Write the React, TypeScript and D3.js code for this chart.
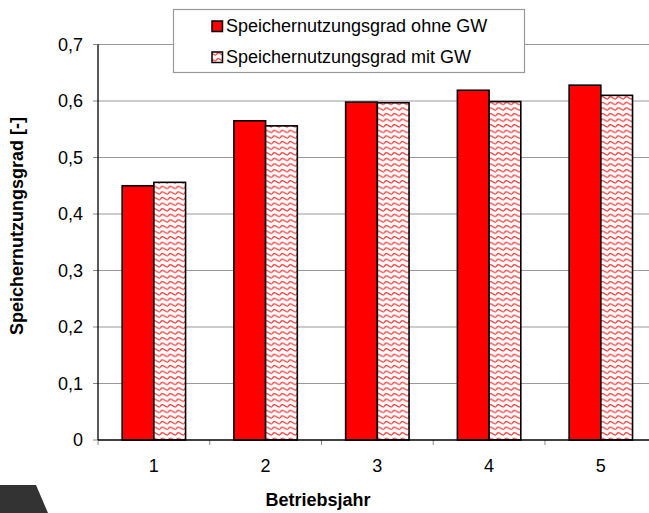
import React from "react";
import * as d3 from "d3";

const categories = ["1", "2", "3", "4", "5"];
const seriesNames = ["Speichernutzungsgrad ohne GW", "Speichernutzungsgrad mit GW"];
const ohneGW = [0.45, 0.565, 0.598, 0.619, 0.628];
const mitGW = [0.456, 0.556, 0.597, 0.599, 0.61];
const yTicks = [0, 0.1, 0.2, 0.3, 0.4, 0.5, 0.6, 0.7];
const yTickLabels = ["0", "0,1", "0,2", "0,3", "0,4", "0,5", "0,6", "0,7"];

const W = 649;
const H = 513;
const left = 98;
const right = 656.7;
const top = 44.5;
const bottom = 440;
const FONT = "Arial, 'Liberation Sans', sans-serif";

export default function App() {
  const x = d3.scaleBand<string>().domain(categories).range([left, right]).paddingInner(0).paddingOuter(0);
  const inner = d3.scaleBand<string>().domain(["a", "b"]).range([0, 63.4]);
  const y = d3.scaleLinear().domain([0, 0.7]).range([bottom, top]);
  const groupOffset = (x.bandwidth() - 63.4) / 2;
  const series = [ohneGW, mitGW];
  const fills = ["#ff0000", "url(#wave)"];

  return (
    <svg width={W} height={H} style={{ position: "absolute", left: 0, top: 0, background: "#fff" }}>
      <defs>
        <pattern id="wave" width={8} height={5.6} patternUnits="userSpaceOnUse">
          <rect width={8} height={5.6} fill="#fff" />
          <path d="M0,3.6 Q2,0.4 4,2.2 T8,3.6" fill="none" stroke="#ff3c3c" strokeWidth={1.3} />
        </pattern>
      </defs>
      <rect x={0} y={0} width={W} height={H} fill="#fff" />
      {yTicks.slice(1).map((t) => (
        <line key={t} x1={left} x2={W} y1={y(t)} y2={y(t)} stroke="#999" strokeWidth={1.2} />
      ))}
      {yTicks.map((t) => (
        <line key={"yt" + t} x1={left - 5} x2={left} y1={y(t)} y2={y(t)} stroke="#888" strokeWidth={1} />
      ))}
      {categories.concat(["end"]).map((c, i) => {
        const xx = i < categories.length ? (x(c) as number) : right;
        return <line key={"xt" + i} x1={xx} x2={xx} y1={bottom} y2={bottom + 5} stroke="#888" strokeWidth={1} />;
      })}
      {categories.map((c, i) => (
        <g key={c}>
          {series.map((s, j) => {
            const bx = (x(c) as number) + groupOffset + (inner(j === 0 ? "a" : "b") as number);
            return (
              <rect
                key={j}
                x={bx}
                y={y(s[i])}
                width={inner.bandwidth()}
                height={bottom - y(s[i])}
                fill={fills[j]}
                stroke="#000"
                strokeWidth={1.6}
              />
            );
          })}
        </g>
      ))}
      <line x1={left} x2={left} y1={top} y2={bottom} stroke="#000" strokeWidth={1.3} />
      <line x1={left} x2={W} y1={bottom} y2={bottom} stroke="#000" strokeWidth={1.3} />
      {yTicks.map((t, i) => (
        <text key={"yl" + t} x={83} y={y(t)} dy="0.36em" textAnchor="end" fontFamily={FONT} fontSize={18} fill="#000">
          {yTickLabels[i]}
        </text>
      ))}
      {categories.map((c) => (
        <text
          key={"xl" + c}
          x={(x(c) as number) + x.bandwidth() / 2}
          y={472}
          textAnchor="middle"
          fontFamily={FONT}
          fontSize={18}
          fill="#000"
        >
          {c}
        </text>
      ))}
      <text x={318} y={506} textAnchor="middle" fontFamily={FONT} fontSize={18} fontWeight="bold">
        Betriebsjahr
      </text>
      <text
        transform={`translate(23,226) rotate(-90)`}
        textAnchor="middle"
        fontFamily={FONT}
        fontSize={18}
        fontWeight="bold"
      >
        Speichernutzungsgrad [-]
      </text>
      <rect x={173.5} y={9.5} width={351} height={63} fill="#fff" stroke="#999" strokeWidth={1.2} />
      {seriesNames.map((n, i) => (
        <g key={n} transform={`translate(0,${26 + i * 31})`}>
          <rect x={212} y={-5} width={10.5} height={10.5} fill={fills[i]} stroke="#000" strokeWidth={1.5} />
          <text x={226} y={0} dy="0.36em" fontFamily={FONT} fontSize={18} fill="#000">
            {n}
          </text>
        </g>
      ))}
      <path d="M0,485 L36,485 L48,513 L0,513 Z" fill="#333" />
    </svg>
  );
}
